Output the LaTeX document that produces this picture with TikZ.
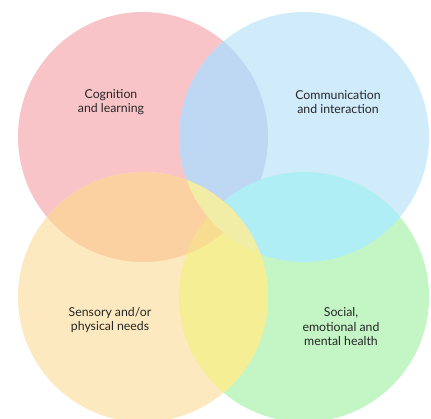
\documentclass[tikz,border=0pt]{standalone}
\usepackage{fontspec}
\setmainfont{Lato}
\definecolor{cP}{HTML}{F9C4C7}
\definecolor{cB}{HTML}{D0ECFA}
\definecolor{cY}{HTML}{FDE9BF}
\definecolor{cG}{HTML}{C3F5C5}
\definecolor{cPB}{HTML}{BED8F4}
\definecolor{cPY}{HTML}{FCD1A2}
\definecolor{cBG}{HTML}{B0EEF5}
\definecolor{cYG}{HTML}{F5EE95}
\definecolor{cBY}{HTML}{F1ECA6}
\definecolor{cPG}{HTML}{F6DB98}
\definecolor{cPYG}{HTML}{F7DC92}
\definecolor{txt}{HTML}{262626}
\tikzset{lbl/.style={align=center,text=txt,font=\fontsize{12.3}{14.5}\selectfont,inner sep=0pt}}
\begin{document}
\begin{tikzpicture}[x=1pt,y=1pt]
\useasboundingbox[fill=white] (0,0) rectangle (431,-419);
\def\R{125}
\coordinate (P) at (143,-137);
\coordinate (B) at (304,-137);
\coordinate (Y) at (143,-297);
\coordinate (G) at (304,-297);
\begin{scope}
\clip (0,0) rectangle (431,-419);
\fill[cP] (P) circle (\R);
\fill[cB] (B) circle (\R);
\fill[cG] (G) circle (\R);
\fill[cY] (Y) circle (\R);
\begin{scope}\clip (P) circle (\R); \fill[cPG] (G) circle (\R);\end{scope}
\begin{scope}\clip (P) circle (\R); \fill[cPB] (B) circle (\R);\end{scope}
\begin{scope}\clip (B) circle (\R); \fill[cBG] (G) circle (\R);\end{scope}
\begin{scope}\clip (P) circle (\R); \fill[cPY] (Y) circle (\R);\end{scope}
\begin{scope}\clip (G) circle (\R); \fill[cYG] (Y) circle (\R);\end{scope}
\begin{scope}\clip (P) circle (\R); \clip (G) circle (\R); \fill[cPYG] (Y) circle (\R);\end{scope}
\begin{scope}\clip (B) circle (\R); \fill[cBY] (Y) circle (\R);\end{scope}
\end{scope}
\node[lbl] (t1) at (111,-102) {Cognition\\and learning};
\node[lbl] (t2) at (338,-102) {Communication\\and interaction};
\node[lbl] (t3) at (110,-320) {Sensory and/or\\physical needs};
\node[lbl] (t4) at (341,-327) {Social,\\emotional and\\mental health};
\end{tikzpicture}
\end{document}
